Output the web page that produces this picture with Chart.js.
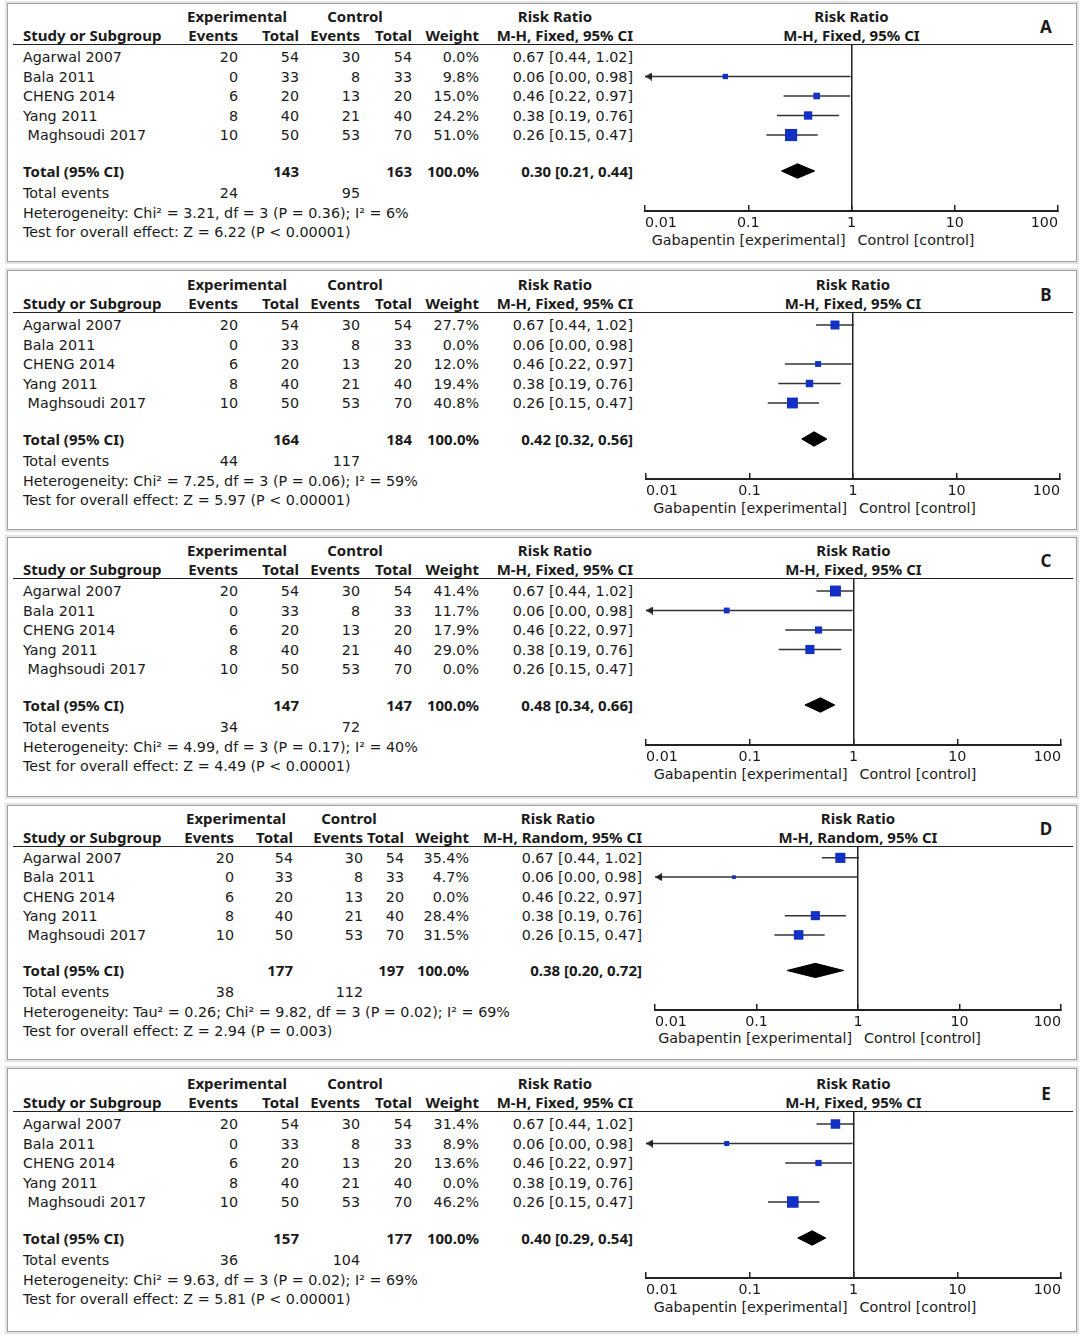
<!DOCTYPE html>
<html><head><meta charset="utf-8">
<script src="https://cdn.jsdelivr.net/npm/chart.js@4"></script>
<style>
body{margin:0;background:#fff;font-family:"DejaVu Sans",sans-serif;color:#1a1a1a;}
#root{position:relative;width:1084px;height:1336px;overflow:hidden;}
.panel{position:absolute;left:7px;width:1070px;border:1px solid #a0a0a0;box-shadow:0 0 0 2px #e4e4e4;box-sizing:border-box;}
.t{position:absolute;white-space:pre;font-size:14.3px;line-height:18px;height:18px;}
.b{font-family:"Noto Sans",sans-serif;font-weight:bold;font-size:15px;}
.r{text-align:right;}
.c{text-align:center;}
.hl{position:absolute;height:0;border-top:1.5px solid #222;}
.cv{position:absolute;}
</style></head>
<body><div id="root"></div>
<script>
// ---------- data ----------
const studies = ["Agarwal 2007", "Bala 2011", "CHENG 2014", "Yang 2011", " Maghsoudi 2017"];
const expEvents = [20, 0, 6, 8, 10];
const expTotal = [54, 33, 20, 40, 50];
const ctlEvents = [30, 8, 13, 21, 53];
const ctlTotal = [54, 33, 20, 40, 70];
const rrEst = [0.67, 0.06, 0.46, 0.38, 0.26];
const rrLow = [0.44, 0.00, 0.22, 0.19, 0.15];
const rrHigh = [1.02, 0.98, 0.97, 0.76, 0.47];

const panelLabels = ["A", "B", "C", "D", "E"];
const panelMethods = ["Fixed", "Fixed", "Fixed", "Random", "Fixed"];
const weightsA = [0.0, 9.8, 15.0, 24.2, 51.0];
const weightsB = [27.7, 0.0, 12.0, 19.4, 40.8];
const weightsC = [41.4, 11.7, 17.9, 29.0, 0.0];
const weightsD = [35.4, 4.7, 0.0, 28.4, 31.5];
const weightsE = [31.4, 8.9, 13.6, 0.0, 46.2];
const totalExp = [143, 164, 147, 177, 157];
const totalCtl = [163, 184, 147, 197, 177];
const pooledEst = [0.30, 0.42, 0.48, 0.38, 0.40];
const pooledLow = [0.21, 0.32, 0.34, 0.20, 0.29];
const pooledHigh = [0.44, 0.56, 0.66, 0.72, 0.54];
const totalEventsExp = [24, 44, 34, 38, 36];
const totalEventsCtl = [95, 117, 72, 112, 104];
const heterogeneity = [
  "Heterogeneity: Chi\u00B2 = 3.21, df = 3 (P = 0.36); I\u00B2 = 6%",
  "Heterogeneity: Chi\u00B2 = 7.25, df = 3 (P = 0.06); I\u00B2 = 59%",
  "Heterogeneity: Chi\u00B2 = 4.99, df = 3 (P = 0.17); I\u00B2 = 40%",
  "Heterogeneity: Tau\u00B2 = 0.26; Chi\u00B2 = 9.82, df = 3 (P = 0.02); I\u00B2 = 69%",
  "Heterogeneity: Chi\u00B2 = 9.63, df = 3 (P = 0.02); I\u00B2 = 69%"
];
const overallEffect = [
  "Test for overall effect: Z = 6.22 (P < 0.00001)",
  "Test for overall effect: Z = 5.97 (P < 0.00001)",
  "Test for overall effect: Z = 4.49 (P < 0.00001)",
  "Test for overall effect: Z = 2.94 (P = 0.003)",
  "Test for overall effect: Z = 5.81 (P < 0.00001)"
];
const tickValues = [0.01, 0.1, 1, 10, 100];
const tickLabels = ["0.01", "0.1", "1", "10", "100"];
const favoursLeft = "Gabapentin [experimental]";
const favoursRight = "Control [control]";

const weights = [weightsA, weightsB, weightsC, weightsD, weightsE];

// ---------- layout ----------
const X_MIN = 0.01, X_MAX = 100;
const panelTops = [3, 270, 537, 805, 1068];
const panelHeights = [259, 260, 260, 255, 264];
const panelShift = [0, 1, 0, 0, 2];
const panelScale = [1, 1, 1, 0.985, 1];
const colsStd = {study: 23, expEv: 238, expTot: 299, ctlEv: 360, ctlTot: 412, weight: 479, ci: 633, expHead: 237, ctlHead: 355, rrHead: 555};
const colsD = {study: 23, expEv: 234, expTot: 293, ctlEv: 363, ctlTot: 404, weight: 469, ci: 642, expHead: 236, ctlHead: 349, rrHead: 558};
const panelCols = [colsStd, colsStd, colsStd, colsD, colsStd];
const plotLeft = [645, 646, 646, 655, 646];
const plotRight = [1058, 1060, 1061, 1061, 1061];
const OFF = {head1: 13, head2: 32, line: 42, row0: 54, rowH: 19.5, total: 168, tev: 190, het: 210, test: 229, axis: 208, dir: 237, letter: 24};
const TOTAL_ROW = (OFF.total - OFF.row0) / OFF.rowH;
const Y_TOP = (OFF.line - OFF.row0) / OFF.rowH;
const Y_BOT = (OFF.axis - OFF.row0) / OFF.rowH;
const DIAMOND_H = 0.37;
const SQ_K = 1.7;
const PADX = 40, XAXIS_H = 28;

// left-pointing arrow head whose tip sits at the image centre
const ARROW_LEN = 7, ARROW_HALF = 4;
const arrowImg = document.createElement('canvas');
arrowImg.width = ARROW_LEN * 2; arrowImg.height = ARROW_HALF * 2;
(() => {
  const g = arrowImg.getContext('2d');
  g.fillStyle = '#222';
  g.beginPath();
  g.moveTo(ARROW_LEN, ARROW_HALF);
  g.lineTo(ARROW_LEN * 2, 0);
  g.lineTo(ARROW_LEN * 2, ARROW_HALF * 2);
  g.closePath();
  g.fill();
})();

const root = document.getElementById('root');
function txt(s, x, y, align, bold, extra) {
  const d = document.createElement('div');
  d.className = 't' + (bold ? ' b' : '') + (align === 'r' ? ' r' : align === 'c' ? ' c' : '');
  d.textContent = s;
  const W = 400;
  let left = x;
  if (align === 'r') left = x - W;
  else if (align === 'c') left = x - W / 2;
  d.style.left = left + 'px';
  d.style.width = (align ? W : 600) + 'px';
  d.style.top = (y - 9) + 'px';
  if (extra) Object.assign(d.style, extra);
  root.appendChild(d);
  return d;
}
const fmtW = w => w.toFixed(1) + '%';
const fmtCI = (e, l, h) => e.toFixed(2) + ' [' + l.toFixed(2) + ', ' + h.toFixed(2) + ']';

for (let p = 0; p < 5; p++) {
  const Y = off => panelTops[p] + panelShift[p] + off * panelScale[p];
  const c = panelCols[p];
  const box = document.createElement('div');
  box.className = 'panel';
  box.style.top = panelTops[p] + 'px';
  box.style.height = panelHeights[p] + 'px';
  root.appendChild(box);

  // headers
  txt("Experimental", c.expHead, Y(OFF.head1), 'c', true);
  txt("Control", c.ctlHead, Y(OFF.head1), 'c', true);
  txt("Risk Ratio", c.rrHead, Y(OFF.head1), 'c', true);
  txt("Study or Subgroup", c.study, Y(OFF.head2), null, true);
  txt("Events", c.expEv, Y(OFF.head2), 'r', true);
  txt("Total", c.expTot, Y(OFF.head2), 'r', true);
  txt("Events", c.ctlEv, Y(OFF.head2), 'r', true);
  txt("Total", c.ctlTot, Y(OFF.head2), 'r', true);
  txt("Weight", c.weight, Y(OFF.head2), 'r', true);
  txt("M-H, " + panelMethods[p] + ", 95% CI", c.ci, Y(OFF.head2), 'r', true);
  const pc = (plotLeft[p] + plotRight[p]) / 2;
  txt("Risk Ratio", pc, Y(OFF.head1), 'c', true);
  txt("M-H, " + panelMethods[p] + ", 95% CI", pc, Y(OFF.head2), 'c', true);
  txt(panelLabels[p], 1046, Y(OFF.letter), 'c', true, {fontSize: '17px'});

  const hl = document.createElement('div');
  hl.className = 'hl';
  hl.style.left = '13px'; hl.style.width = '1060px';
  hl.style.top = (Y(OFF.line) - 0.75) + 'px';
  root.appendChild(hl);

  // study rows
  for (let i = 0; i < studies.length; i++) {
    const yy = Y(OFF.row0 + i * OFF.rowH);
    txt(studies[i], c.study, yy, null, false);
    txt(String(expEvents[i]), c.expEv, yy, 'r');
    txt(String(expTotal[i]), c.expTot, yy, 'r');
    txt(String(ctlEvents[i]), c.ctlEv, yy, 'r');
    txt(String(ctlTotal[i]), c.ctlTot, yy, 'r');
    txt(fmtW(weights[p][i]), c.weight, yy, 'r');
    txt(fmtCI(rrEst[i], rrLow[i], rrHigh[i]), c.ci, yy, 'r');
  }
  // total row
  const ty = Y(OFF.total);
  txt("Total (95% CI)", c.study, ty, null, true);
  txt(String(totalExp[p]), c.expTot, ty, 'r', true);
  txt(String(totalCtl[p]), c.ctlTot, ty, 'r', true);
  txt("100.0%", c.weight, ty, 'r', true);
  txt(fmtCI(pooledEst[p], pooledLow[p], pooledHigh[p]), c.ci, ty, 'r', true);
  txt("Total events", c.study, Y(OFF.tev), null);
  txt(String(totalEventsExp[p]), c.expEv, Y(OFF.tev), 'r');
  txt(String(totalEventsCtl[p]), c.ctlEv, Y(OFF.tev), 'r');
  txt(heterogeneity[p], c.study, Y(OFF.het), null);
  txt(overallEffect[p], c.study, Y(OFF.test), null);

  txt(favoursLeft, pc - 6, Y(OFF.dir), 'r');
  txt(favoursRight, pc + 6, Y(OFF.dir), null);

  // ---------- chart ----------
  const cvW = plotRight[p] - plotLeft[p] + 2 * PADX;
  const areaH = (OFF.axis - OFF.line) * panelScale[p];
  const cvH = Math.round(areaH + XAXIS_H);
  const cv = document.createElement('canvas');
  cv.className = 'cv';
  cv.width = cvW; cv.height = cvH;
  cv.style.width = cvW + 'px'; cv.style.height = cvH + 'px';
  cv.style.left = (plotLeft[p] - PADX) + 'px';
  cv.style.top = Y(OFF.line) + 'px';
  root.appendChild(cv);

  const datasets = [];
  const sqData = [], sqRad = [];
  for (let i = 0; i < studies.length; i++) {
    const w = weights[p][i];
    if (w <= 0) continue;
    sqData.push({x: rrEst[i], y: i});
    sqRad.push(SQ_K * Math.sqrt(w) / Math.SQRT2);
    datasets.push({
      data: [{x: Math.max(rrLow[i], X_MIN), y: i}, {x: rrHigh[i], y: i}],
      showLine: true, borderColor: '#333', borderWidth: 1.5, pointRadius: 0, order: 2, clip: false
    });
    if (rrLow[i] < X_MIN) {
      datasets.push({
        data: [{x: X_MIN, y: i}], pointStyle: arrowImg, pointRadius: ARROW_LEN,
        order: 1, clip: false
      });
    }
  }
  datasets.push({
    data: sqData, pointStyle: 'rect', pointRadius: sqRad, backgroundColor: '#1330c4',
    borderColor: '#1330c4', borderWidth: 0, order: 0, clip: false
  });
  const T = TOTAL_ROW;
  datasets.push({
    data: [{x: pooledLow[p], y: T}, {x: pooledEst[p], y: T - DIAMOND_H}, {x: pooledHigh[p], y: T},
           {x: pooledEst[p], y: T + DIAMOND_H}, {x: pooledLow[p], y: T}],
    showLine: true, fill: 'shape', backgroundColor: '#000', borderColor: '#000', borderWidth: 1,
    pointRadius: 0, tension: 0, order: 0, clip: false
  });

  new Chart(cv, {
    type: 'scatter',
    data: {datasets},
    options: {
      responsive: false, animation: false, events: [],
      layout: {autoPadding: false, padding: {left: PADX, right: PADX, top: 0, bottom: 0}},
      plugins: {legend: {display: false}, tooltip: {enabled: false}},
      scales: {
        x: {
          type: 'logarithmic', min: X_MIN, max: X_MAX, position: 'bottom',
          afterBuildTicks: ax => { ax.ticks = tickValues.map(v => ({value: v})); },
          afterFit: ax => { ax.height = XAXIS_H; },
          grid: {
            drawOnChartArea: true, drawTicks: true, tickLength: -6, tickColor: '#222', tickWidth: 1.5,
            color: ctx => (ctx.tick && ctx.tick.value === 1) ? '#222' : 'rgba(0,0,0,0)', lineWidth: 1.5
          },
          border: {display: true, color: '#222', width: 2},
          ticks: {
            autoSkip: false, maxRotation: 0, padding: 9.6, color: '#1a1a1a', align: 'inner',
            font: {family: 'DejaVu Sans', size: 14.3},
            callback: (v, i) => tickLabels[i]
          }
        },
        y: {type: 'linear', min: Y_TOP, max: Y_BOT, reverse: true, display: false}
      }
    }
  });
}
</script>
</body></html>
